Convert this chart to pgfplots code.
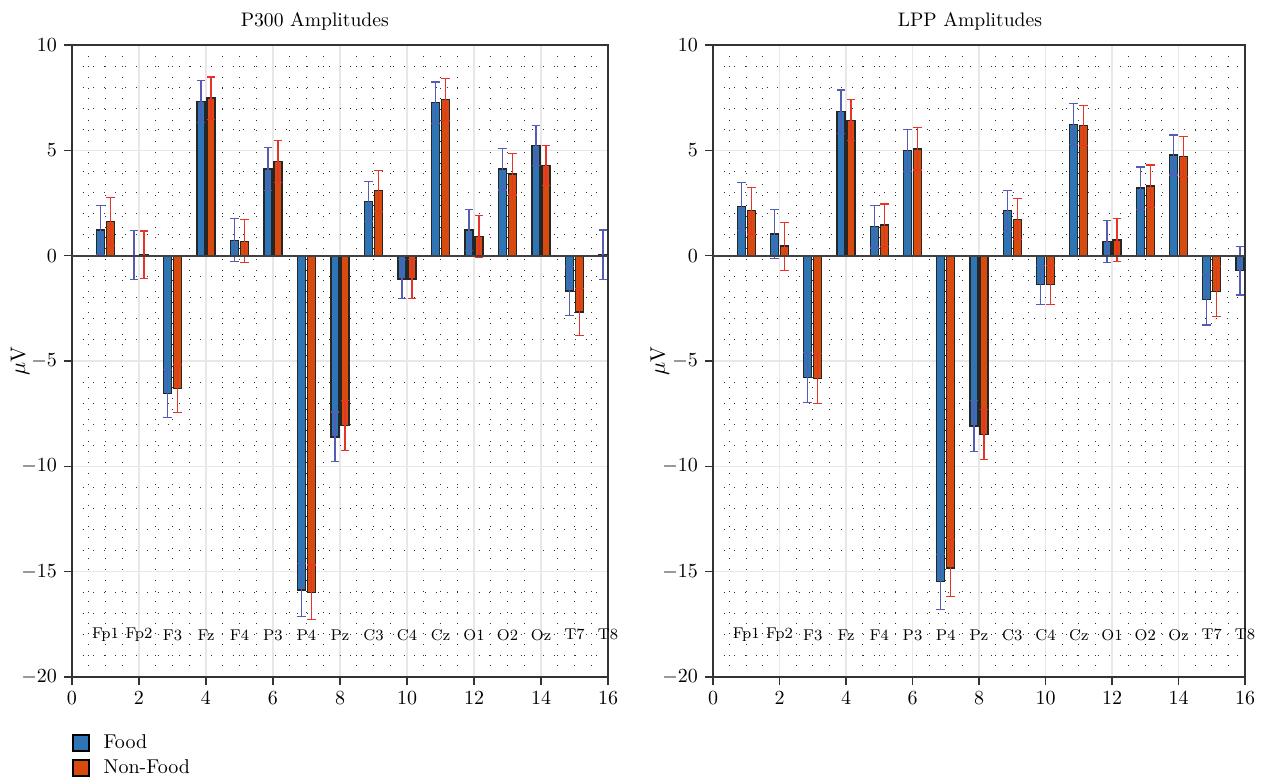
\documentclass[border=0pt]{standalone}
\usepackage{pgfplots}
\pgfplotsset{compat=1.18}
\usepackage{pgfplotstable}

\definecolor{foodblue}{RGB}{46,117,182}
\definecolor{nonfood}{RGB}{217,74,15}
\definecolor{errblue}{RGB}{84,92,182}
\definecolor{errred}{RGB}{232,52,40}

% columns: electrode index, mean amplitude, error
\pgfplotstableread{
x y e
1 1.22 1.15
2 0.02 1.17
3 -6.55 1.15
4 7.33 1.00
5 0.73 1.02
6 4.11 1.03
7 -15.87 1.25
8 -8.60 1.18
9 2.57 0.95
10 -1.10 0.93
11 7.26 0.98
12 1.22 0.98
13 4.11 0.99
14 5.24 0.95
15 -1.68 1.17
16 0.05 1.17
}\pthreefood
\pgfplotstableread{
x y e
1 1.62 1.14
2 0.05 1.12
3 -6.30 1.15
4 7.48 1.00
5 0.68 1.02
6 4.48 1.00
7 -15.98 1.30
8 -8.07 1.19
9 3.08 0.97
10 -1.10 0.93
11 7.41 0.99
12 0.90 1.00
13 3.87 0.99
14 4.29 0.95
15 -2.67 1.13
16 0.05 1.10
}\pthreenon
\pgfplotstableread{
x y e
1 2.33 1.15
2 1.03 1.17
3 -5.78 1.19
4 6.83 1.03
5 1.38 1.02
6 4.99 1.01
7 -15.48 1.30
8 -8.08 1.20
9 2.13 0.97
10 -1.38 0.93
11 6.24 0.97
12 0.67 1.00
13 3.21 1.00
14 4.78 0.95
15 -2.09 1.20
16 -0.71 1.16
}\lppfood
\pgfplotstableread{
x y e
1 2.13 1.10
2 0.45 1.14
3 -5.83 1.17
4 6.43 0.98
5 1.45 1.00
6 5.07 1.00
7 -14.82 1.35
8 -8.50 1.18
9 1.73 0.97
10 -1.38 0.93
11 6.19 0.95
12 0.75 1.03
13 3.30 1.00
14 4.70 0.95
15 -1.71 1.18
16 -0.70 1.10
}\lppnon

\tikzset{cat/.style={font=\fontsize{7.8}{9}\selectfont, inner sep=1pt}}

\newcommand\catlabels{%
 \node[cat] at (axis cs:1,-18) {Fp1};
 \node[cat] at (axis cs:2,-18) {Fp2};
 \node[cat] at (axis cs:3,-18) {F3};
 \node[cat] at (axis cs:4,-18) {Fz};
 \node[cat] at (axis cs:5,-18) {F4};
 \node[cat] at (axis cs:6,-18) {P3};
 \node[cat] at (axis cs:7,-18) {P4};
 \node[cat] at (axis cs:8,-18) {Pz};
 \node[cat] at (axis cs:9,-18) {C3};
 \node[cat] at (axis cs:10,-18) {C4};
 \node[cat] at (axis cs:11,-18) {Cz};
 \node[cat] at (axis cs:12,-18) {O1};
 \node[cat] at (axis cs:13,-18) {O2};
 \node[cat] at (axis cs:14,-18) {Oz};
 \node[cat] at (axis cs:15,-18) {T7};
 \node[cat] at (axis cs:16,-18) {T8};
}

\pgfplotsset{
 eeg/.style={
  scale only axis,
  height=316pt,
  xmin=0, xmax=16, ymin=-20, ymax=10,
  clip mode=individual,
  xtick={0,2,...,16}, ytick={-20,-15,...,10},
  minor x tick num=3, minor y tick num=4,
  tick align=outside, tick pos=left,
  major tick length=4pt, minor tick length=0pt,
  tick style={black!80, line width=0.8pt},
  tick label style={font=\fontsize{10.2}{12}\selectfont},
  grid=both,
  major grid style={gray!18, line width=0.7pt},
  minor grid style={black!80, line width=0.5pt, dash pattern=on 0.45pt off 4.9pt},
  axis line style={black!80, line width=0.8pt},
  title style={font=\fontsize{9.8}{11}\selectfont, yshift=-2.2pt},
  ylabel={$\mu$V},
  ylabel style={font=\fontsize{10.5}{12}\selectfont, anchor=center},
  ybar, bar width=0.24,
  legend image code/.code={\draw[#1, draw=black, line width=0.6pt] (0pt,-4pt) rectangle (8pt,4pt);},
 },
 foodbars/.style={bar shift=0pt, fill=foodblue, draw=black!85, line width=0.7pt,
  error bars/.cd, y dir=both, y explicit,
  error bar style={draw=errblue, line width=0.6pt},
  error mark options={rotate=90, mark size=2.2pt, draw=errblue, line width=0.6pt}},
 nonbars/.style={bar shift=0pt, fill=nonfood, draw=black!85, line width=0.7pt,
  error bars/.cd, y dir=both, y explicit,
  error bar style={draw=errred, line width=0.6pt},
  error mark options={rotate=90, mark size=2.2pt, draw=errred, line width=0.6pt}},
}

\begin{document}
\begin{tikzpicture}[x=1pt,y=1pt]
\path[use as bounding box] (-36,-50.5) rectangle (598,338.5);

\begin{axis}[eeg, name=left, at={(0,0)}, anchor=south west, width=268pt,
 title={P300 Amplitudes}, title style={at={(0.453,1)}},
 ylabel style={at={(axis description cs:-0.097,0.5)}},
 legend style={at={(0,0)}, anchor=north west, yshift=-26.6pt, xshift=0pt, draw=none, fill=none,
  font=\fontsize{10}{12}\selectfont, row sep=0pt, inner sep=0pt,
  /tikz/every odd column/.append style={column sep=5pt}},
 legend cell align=left]
 \addplot+[foodbars] table[x expr=\thisrow{x}-0.15, y=y, y error=e] {\pthreefood};
 \addlegendentry{Food}
 \addplot+[nonbars] table[x expr=\thisrow{x}+0.15, y=y, y error=e] {\pthreenon};
 \addlegendentry{Non-Food}
 \draw[black!75, line width=0.9pt] (axis cs:0,0) -- (axis cs:16,0);
 \catlabels
\end{axis}

\begin{axis}[eeg, name=right, at={(320.5pt,0)}, anchor=south west, width=266pt,
 title={LPP Amplitudes}, title style={at={(0.483,1)}},
 ylabel style={at={(axis description cs:-0.1,0.5)}}]
 \addplot+[foodbars] table[x expr=\thisrow{x}-0.15, y=y, y error=e] {\lppfood};
 \addplot+[nonbars] table[x expr=\thisrow{x}+0.15, y=y, y error=e] {\lppnon};
 \draw[black!75, line width=0.9pt] (axis cs:0,0) -- (axis cs:16,0);
 \catlabels
\end{axis}
\end{tikzpicture}
\end{document}
